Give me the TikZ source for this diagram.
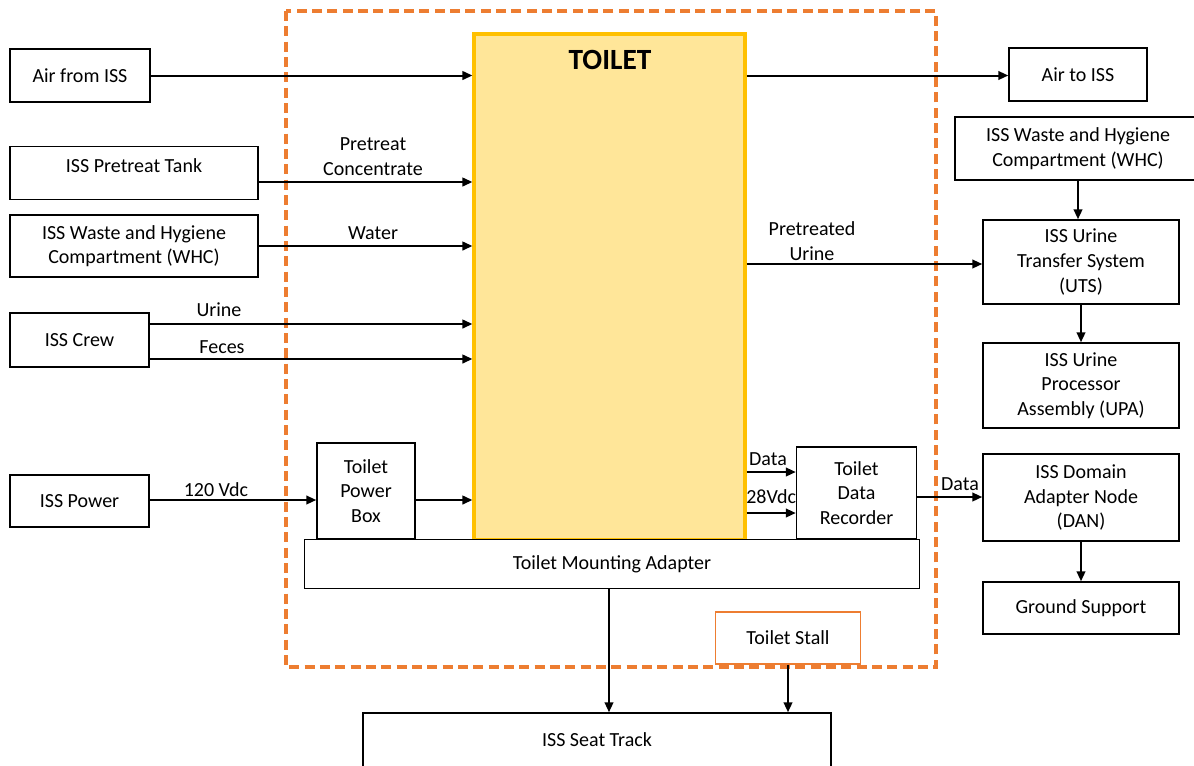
\documentclass[tikz,border=0pt]{standalone}
\usepackage{fontspec}
\setmainfont{Carlito}
\usetikzlibrary{arrows.meta,calc}
\definecolor{dashorange}{HTML}{ED7D31}
\definecolor{toiletfill}{HTML}{FFE699}
\definecolor{toiletedge}{HTML}{FFC000}
\begin{document}
\begin{tikzpicture}[x=0.75pt,y=-0.75pt,
  txt/.style={font=\fontsize{15}{18.5}\selectfont, align=center, inner sep=0pt},
  box/.style 2 args={draw, line width=1.1pt, fill=white, minimum width=#1*0.75pt, minimum height=#2*0.75pt, inner sep=0pt, align=center, font=\fontsize{15}{18.5}\selectfont},
  arr/.style={line width=1.5pt, -{Triangle[length=7.5pt,width=6.5pt]}}]
\useasboundingbox (0,0) rectangle (1194,765);
\fill[white] (0,0) rectangle (1194,765);
% boundary
\draw[dashorange, line width=2.6pt, dash pattern=on 7.5pt off 4pt] (286,11) rectangle (936,667);
% y levels
\coordinate (y182) at (0,182);
\coordinate (y246) at (0,246);
\coordinate (y324) at (0,324);
\coordinate (y359) at (0,359);
\coordinate (y264) at (0,264);
\coordinate (y472) at (0,472);
\coordinate (y513) at (0,513);
\coordinate (y497) at (0,497);
\coordinate (y500) at (0,500);
% left nodes
\node[box={140}{53}] (airfrom) at (80,75.5) {Air from ISS};
\node[box={248}{53}] (tank) at (134,173) {};
\node[txt] (tanklbl) at (134,166) {ISS Pretreat Tank};
\node[box={248}{62}] (whcL) at (134,246) {ISS Waste and Hygiene\\Compartment (WHC)};
\node[box={139}{54}] (crew) at (79.5,340) {ISS Crew};
\node[box={139}{52}] (power) at (79.5,501) {ISS Power};
% toilet
\node[draw=toiletedge, fill=toiletfill, line width=2.4pt, minimum width=271*0.75pt, minimum height=506*0.75pt, inner sep=0pt] (toilet) at (609.5,287) {};
\node[font=\fontsize{22}{26}\selectfont\bfseries, inner sep=0pt] (title) at (610,60) {TOILET};
\node[box={98}{96}] (pbox) at (366,491) {Toilet\\Power\\Box};
\node[txt, anchor=west] (l28) at (746,497) {28Vdc};
\node[box={120}{92}] (tdr) at (856.5,493) {Toilet\\Data\\Recorder};
\node[box={615}{49}] (tma) at (612,564) {Toilet Mounting Adapter};
\node[box={145}{52}, draw=dashorange, line width=0.9pt] (stall) at (788,638) {Toilet Stall};
\node[box={468}{54}] (seat) at (597,740) {ISS Seat Track};
% right nodes
\node[box={138}{53}] (airto) at (1078,74.5) {Air to ISS};
\node[box={246}{63}] (whcR) at (1078,148.5) {ISS Waste and Hygiene\\Compartment (WHC)};
\node[box={196}{84}] (uts) at (1081,262) {ISS Urine\\Transfer System\\(UTS)};
\node[box={196}{85}] (upa) at (1081,385.5) {ISS Urine\\Processor\\Assembly (UPA)};
\node[box={196}{87}] (dan) at (1081,497.5) {ISS Domain\\Adapter Node\\(DAN)};
\node[box={196}{52}] (ground) at (1081,608) {Ground Support};
% labels
\node[txt] (lpre) at (373,156.5) {Pretreat\\Concentrate};
\node[txt] (lwater) at (373,233) {Water};
\node[txt] (lurine) at (219,310) {Urine};
\node[txt] (lfeces) at (222,347) {Feces};
\node[txt] (l120) at (216,490) {120 Vdc};
\node[txt] (ldata1) at (768,459) {Data};
\node[txt] (lpu) at (812,241) {Pretreated\\Urine};
\node[txt] (ldata2) at (960,484) {Data};
% arrows in
\draw[arr] (airfrom.east) -- (toilet.west |- airfrom.east);
\draw[arr] (tank.east |- y182) -- (toilet.west |- y182);
\draw[arr] (whcL.east |- y246) -- (toilet.west |- y246);
\draw[arr] (crew.east |- y324) -- (toilet.west |- y324);
\draw[arr] (crew.east |- y359) -- (toilet.west |- y359);
\draw[arr] (power.east |- y500) -- (pbox.west |- y500);
\draw[arr] (pbox.east |- y500) -- (toilet.west |- y500);
% arrows out
\draw[arr] (toilet.east |- airfrom.east) -- (airto.west |- airfrom.east);
\draw[arr] (toilet.east |- y264) -- (uts.west |- y264);
\draw[arr] (toilet.east |- y472) -- (tdr.west |- y472);
\draw[arr] (toilet.east |- y513) -- (tdr.west |- y513);
\draw[arr] (tdr.east |- y497) -- (dan.west |- y497);
\draw[arr] (whcR.south) -- (whcR.south |- uts.north);
\draw[arr] (uts.south) -- (upa.north);
\draw[arr] (dan.south) -- (ground.north);
\draw[arr] ($(tma.south)+(-3,0)$) -- ($(tma.south |- seat.north)+(-3,0)$);
\draw[arr] (stall.south) -- (stall.south |- seat.north);
\end{tikzpicture}
\end{document}
